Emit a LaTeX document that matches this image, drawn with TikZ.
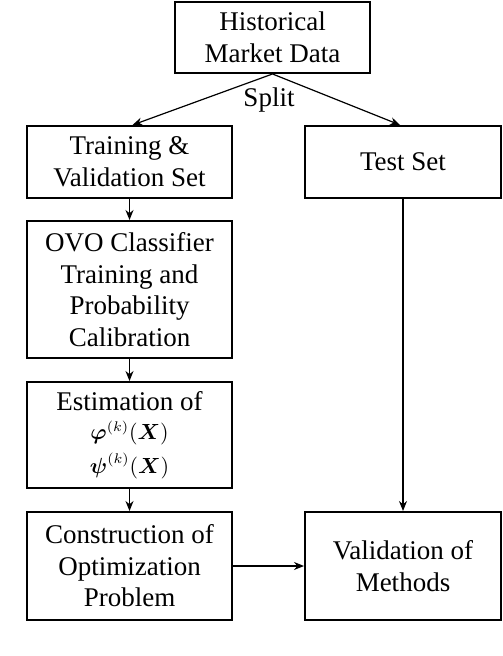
\documentclass[tikz,border=0pt]{standalone}
\usepackage{amsmath,amssymb}
\usepackage{fontspec}
\setmainfont{Liberation Serif}
\usetikzlibrary{arrows.meta}

\begin{document}
\begin{tikzpicture}[x=0.5pt,y=-0.5pt,
		box_style/.style={rectangle,draw=black,line width=1pt,align=center,inner sep=0pt,font=\fontsize{13.5}{15.8}\selectfont},
		left_box/.style={box_style,minimum width=102.5pt},
		right_box/.style={box_style,minimum width=98pt},
		edge_style/.style={draw=black,line width=0.6pt,-{Stealth[length=5pt,width=4pt]}}]
		
		\useasboundingbox (0,0) rectangle (502,656);
		
		\node[box_style,minimum width=97.5pt,minimum height=35.5pt] (hist) at (272.5,37.5) {Historical\\Market Data};
		\node[left_box,minimum height=36pt] (train) at (129.5,162) {Training \&\\Validation Set};
		\node[right_box,minimum height=36pt] (test) at (403,162) {Test Set};
		\node[left_box,minimum height=68.5pt] (ovo) at (129.5,289.5) {OVO Classifier\\Training and\\Probability\\Calibration};
		\node[left_box,minimum height=53pt] (est) at (129.5,435) {Estimation of\\[-1pt]{\fontsize{10.5}{12}\selectfont$\boldsymbol{\varphi}^{(k)}(\boldsymbol{X})$}\\[1pt]{\fontsize{10.5}{12}\selectfont$\boldsymbol{\psi}^{(k)}(\boldsymbol{X})$}};
		\node[left_box,minimum height=54pt] (cons) at (129.5,566) {Construction of\\Optimization\\Problem};
		\node[right_box,minimum height=54pt] (val) at (403,566) {Validation of\\Methods};
		\node[font=\fontsize{13.5}{15.8}\selectfont] (split) at (269,100) {Split};
		
		\draw[edge_style]  (hist.south) -- ([xshift=1.5pt]train.north);
		\draw[edge_style]  (hist.south) -- ([xshift=-1.5pt]test.north);
		\draw[edge_style]  (train) edge (ovo);
		\draw[edge_style]  (ovo) edge (est);
		\draw[edge_style]  (est) edge (cons);
		\draw[edge_style]  (cons) edge (val);
		\draw[edge_style]  (test) edge (val);
		
		\end{tikzpicture}
\end{document}
